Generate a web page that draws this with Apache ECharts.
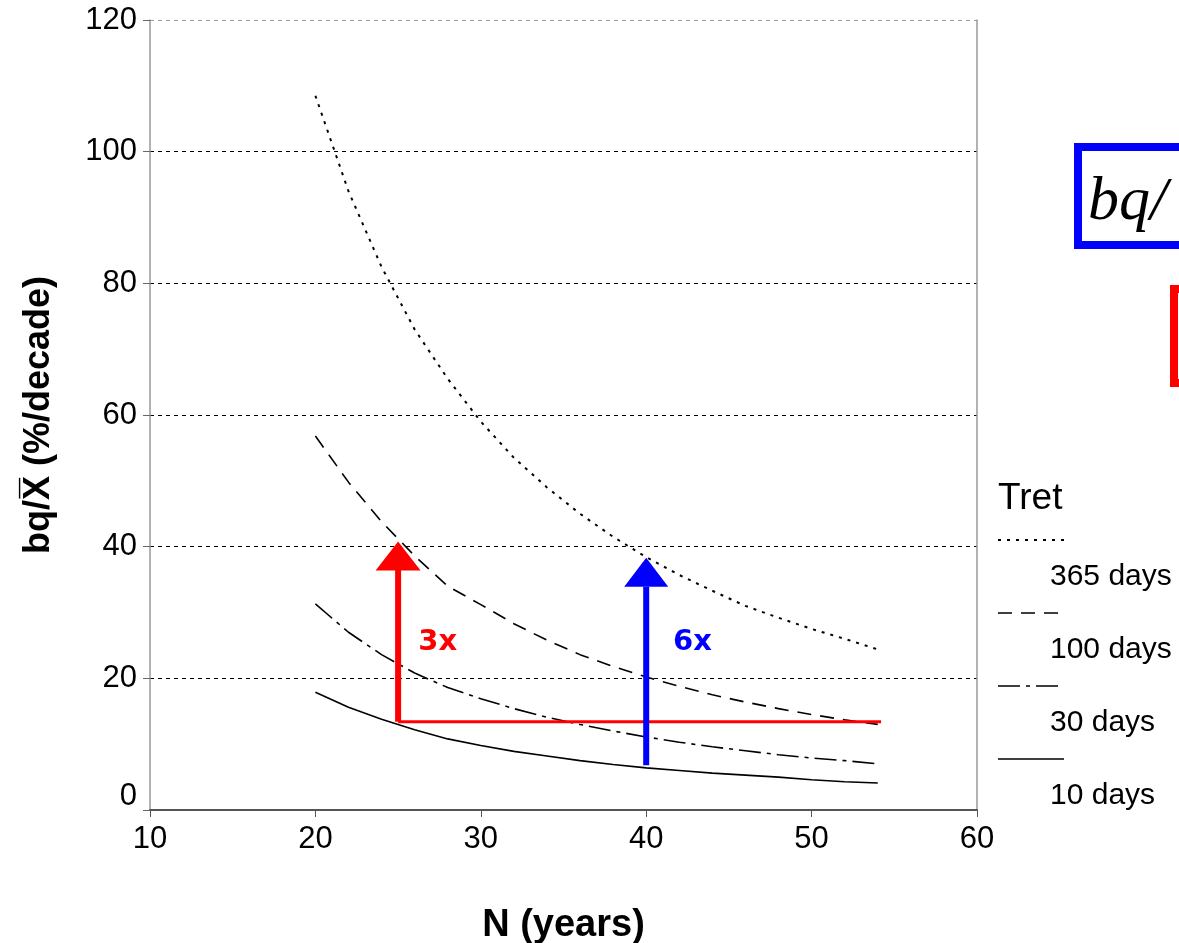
<!DOCTYPE html>
<html>
<head>
<meta charset="utf-8">
<script src="https://cdn.jsdelivr.net/npm/echarts@6/dist/echarts.min.js"></script>
<style>
  html, body { margin: 0; padding: 0; background: #fff; }
  #chart { width: 1179px; height: 943px; }
</style>
</head>
<body>
<div id="chart"></div>
<script>
// N (years) at which the curves are read
const years = [20, 22, 24, 26, 28, 30, 32, 34, 36, 38, 40, 42, 44, 46, 48, 50, 52, 54];
// bq/X (%/decade) for each retention time
const tret365 = [108.5, 94, 82.5, 73, 65.5, 59, 53.5, 49, 45, 41.5, 38.4, 35.7, 33.3, 31, 29.2, 27.5, 26, 24.4];
const tret100 = [56.8, 49.8, 43.8, 38.6, 34.0, 31.2, 28.3, 25.8, 23.6, 21.8, 20.2, 18.8, 17.5, 16.4, 15.4, 14.5, 13.7, 13.0];
const tret30 = [31.3, 27.0, 23.6, 20.8, 18.6, 16.9, 15.4, 14.1, 13.0, 12.0, 11.1, 10.3, 9.6, 9.0, 8.4, 7.9, 7.5, 7.0];
const tret10 = [17.9, 15.6, 13.8, 12.2, 10.8, 9.8, 8.9, 8.2, 7.5, 6.9, 6.4, 6.0, 5.6, 5.3, 5.0, 4.6, 4.3, 4.1];

const seriesNames = ['365 days', '100 days', '30 days', '10 days'];
const seriesData = [tret365, tret100, tret30, tret10];
const dashes = [[3, 6], [14, 9], [22, 6, 4, 6], 'solid'];
const widths = [2, 1.6, 1.6, 1.6];

// annotation arrows: [N, from, to(base of head), tip]
const redArrow = [25, 13.4, 36.5, 40.7];
const blueArrow = [40, 6.8, 33.9, 38.3];
const redBaseEnd = 54.2;
const notes = [
  { text: '3x', pos: [27.4, 25.5], color: '#ff0000' },
  { text: '6x', pos: [42.8, 25.5], color: '#0000ff' }
];

const pairs = (ys) => ys.map((v, i) => [years[i], v]);

const chart = echarts.init(document.getElementById('chart'));

const curveSeries = seriesData.map((d, i) => ({
  name: seriesNames[i],
  type: 'line',
  data: pairs(d),
  showSymbol: false,
  silent: true,
  lineStyle: { color: '#000', width: widths[i], type: dashes[i] }
}));

const arrowSeries = [
  {
    type: 'line', silent: true, showSymbol: false, z: 5,
    data: [[redArrow[0], redArrow[1]], [redBaseEnd, redArrow[1]]],
    lineStyle: { color: '#ff0000', width: 3 }
  },
  {
    type: 'line', silent: true, showSymbol: false, z: 5,
    data: [[redArrow[0], redArrow[1]], [redArrow[0], redArrow[2]]],
    lineStyle: { color: '#ff0000', width: 6 }
  },
  {
    type: 'line', silent: true, showSymbol: false, z: 5,
    data: [[blueArrow[0], blueArrow[1]], [blueArrow[0], blueArrow[2]]],
    lineStyle: { color: '#0000ff', width: 6 }
  },
  {
    type: 'scatter', silent: true, z: 6,
    symbol: 'triangle', symbolSize: [45, 29],
    data: [[redArrow[0], (redArrow[2] + redArrow[3]) / 2]],
    itemStyle: { color: '#ff0000', opacity: 1 }
  },
  {
    type: 'scatter', silent: true, z: 6,
    symbol: 'triangle', symbolSize: [44, 29],
    data: [[blueArrow[0], (blueArrow[2] + blueArrow[3]) / 2]],
    itemStyle: { color: '#0000ff', opacity: 1 }
  },
  {
    type: 'scatter', silent: true, z: 6, symbolSize: 0,
    itemStyle: { opacity: 1 },
    data: notes.map(n => ({
      value: n.pos,
      label: {
        show: true, position: 'inside', formatter: n.text,
        color: n.color, fontFamily: 'DejaVu Sans', fontWeight: 'bold', fontSize: 29
      }
    }))
  }
];

// legend drawn beside the plot: sample line, then the label below it
const legendGraphics = [{
  type: 'text', left: 998, top: 480,
  style: { text: 'Tret', font: '37px "Liberation Sans"', fill: '#000' }
}];
seriesNames.forEach((name, i) => {
  const y = 540 + i * 73;
  legendGraphics.push({
    type: 'line',
    shape: { x1: 998, y1: y, x2: 1064, y2: y },
    style: { stroke: '#000', lineWidth: widths[i], lineDash: dashes[i] === 'solid' ? null : dashes[i] }
  });
  legendGraphics.push({
    type: 'text', left: 1050, top: y + 22,
    style: { text: name, font: '30px "Liberation Sans"', fill: '#000' }
  });
});

const boxGraphics = [
  {
    type: 'rect', shape: { x: 1078, y: 147, width: 200, height: 98 },
    style: { fill: '#fff', stroke: '#0000ff', lineWidth: 8 }
  },
  {
    type: 'text', left: 1088, top: 172,
    style: { text: 'bq/  X\u0304', font: 'italic 62px "Liberation Serif"', fill: '#000' }
  },
  {
    type: 'rect', shape: { x: 1174, y: 289, width: 200, height: 94 },
    style: { fill: '#fff', stroke: '#ff0000', lineWidth: 8 }
  }
];

chart.setOption({
  animation: false,
  grid: { left: 150, right: 202, top: 20, bottom: 133, outerBoundsMode: 'none' },
  xAxis: {
    type: 'value', min: 10, max: 60, interval: 10,
    name: 'N (years)', nameLocation: 'middle', nameGap: 97,
    nameTextStyle: { fontFamily: 'Liberation Sans', fontWeight: 'bold', fontSize: 38, color: '#000' },
    axisLine: { lineStyle: { color: '#555', width: 2 } },
    axisTick: { show: true, length: 7, lineStyle: { color: '#555' } },
    axisLabel: { fontFamily: 'Liberation Sans', fontSize: 31, color: '#000', margin: 14 },
    splitLine: { show: false }
  },
  yAxis: [
    {
      type: 'value', min: 0, max: 120, interval: 20,
      name: 'bq/X\u0305 (%/decade)', nameLocation: 'middle', nameGap: 93,
      nameTextStyle: { fontFamily: 'Liberation Sans', fontWeight: 'bold', fontSize: 36, color: '#000' },
      axisLine: { show: true, lineStyle: { color: '#999', width: 1.5 } },
      axisTick: { show: true, length: 7, lineStyle: { color: '#666' } },
      axisLabel: {
        fontFamily: 'Liberation Sans', fontSize: 31, color: '#000', margin: 13,
        formatter: (v) => (v === 0 ? '{z|0}' : String(v)),
        rich: { z: { fontFamily: 'Liberation Sans', fontSize: 31, color: '#000', padding: [0, 0, 28, 0] } }
      },
      splitLine: {
        show: true,
        lineStyle: { color: ['#000', '#000', '#000', '#000', '#000', '#000', '#999'], type: [4, 4], width: 1 }
      }
    },
    {
      type: 'value', min: 0, max: 120, position: 'right',
      axisLine: { show: true, lineStyle: { color: '#999', width: 1.5 } },
      axisTick: { show: false }, axisLabel: { show: false }, splitLine: { show: false }
    }
  ],
  series: [...curveSeries, ...arrowSeries],
  graphic: [...legendGraphics, ...boxGraphics]
});
</script>
</body>
</html>
